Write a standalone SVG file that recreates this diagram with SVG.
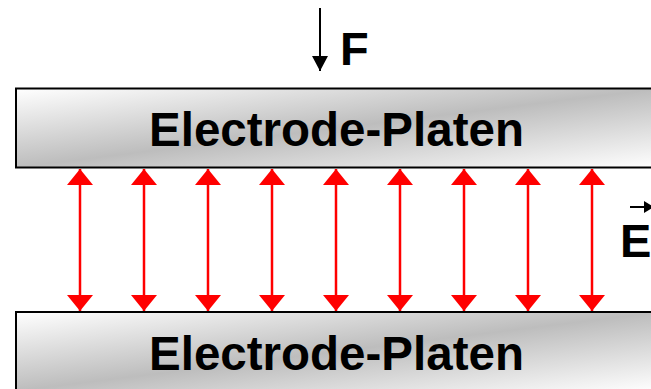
<svg xmlns="http://www.w3.org/2000/svg" width="651" height="389" viewBox="0 0 651 389">
<style>
.plate{stroke:#000;stroke-width:2;fill:url(#plateGrad)}
.ptxt{font-family:"Liberation Sans",Arial,sans-serif;font-weight:bold;font-size:47.5px;fill:#000;text-anchor:middle}
.lbl{font-family:"Liberation Sans",Arial,sans-serif;font-weight:bold;font-size:47px;fill:#000}
.field{stroke:#ff0000;stroke-width:2.5;fill:none;marker-start:url(#redHead);marker-end:url(#redHead)}
.force{stroke:#000;stroke-width:2;fill:none;marker-end:url(#blackHead)}
</style>
<defs>
<linearGradient id="plateGrad" x1="0" y1="0" x2="1" y2="1">
<stop offset="0" stop-color="#ffffff"/>
<stop offset="0.5" stop-color="#bdbdbd"/>
<stop offset="1" stop-color="#ffffff"/>
</linearGradient>
<marker id="redHead" markerUnits="userSpaceOnUse" markerWidth="16" markerHeight="26" refX="16" refY="13" orient="auto-start-reverse" viewBox="0 0 16 26">
<path d="M0,0 L16,13 L0,26 z" fill="#ff0000"/>
</marker>
<marker id="blackHead" markerUnits="userSpaceOnUse" markerWidth="15" markerHeight="16" refX="15" refY="8" orient="auto" viewBox="0 0 15 16">
<path d="M0,0 L15,8 L0,16 z" fill="#000"/>
</marker>
</defs>
<g id="force-F">
<line class="force" x1="320" y1="8" x2="320" y2="71"/>
<text class="lbl" x="340" y="65">F</text>
</g>
<g id="plate-top">
<rect class="plate" x="16" y="88.5" width="644" height="79"/>
<text class="ptxt" x="336.5" y="146">Electrode-Platen</text>
</g>
<g id="plate-bottom">
<rect class="plate" x="16" y="312" width="644" height="79"/>
<text class="ptxt" x="336.5" y="370">Electrode-Platen</text>
</g>
<g id="field-E">
<line x1="630" y1="207" x2="646" y2="207" stroke="#000" stroke-width="2"/>
<path d="M644,201 L654,207 L644,213 z" fill="#000"/>
<text class="lbl" x="620" y="257">E</text>
</g>
<g id="connectors">
<line class="field" x1="80" y1="169" x2="80" y2="311"/>
<line class="field" x1="144" y1="169" x2="144" y2="311"/>
<line class="field" x1="208" y1="169" x2="208" y2="311"/>
<line class="field" x1="272" y1="169" x2="272" y2="311"/>
<line class="field" x1="336" y1="169" x2="336" y2="311"/>
<line class="field" x1="400" y1="169" x2="400" y2="311"/>
<line class="field" x1="464" y1="169" x2="464" y2="311"/>
<line class="field" x1="528" y1="169" x2="528" y2="311"/>
<line class="field" x1="592" y1="169" x2="592" y2="311"/>
</g>
</svg>
